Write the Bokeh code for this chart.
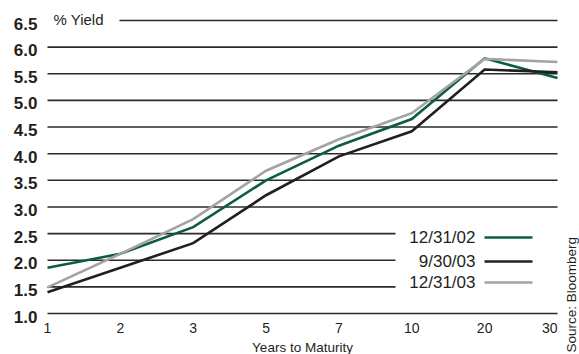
from bokeh.plotting import figure
from bokeh.models import Range1d, BoxAnnotation, Label, ColumnDataSource
from bokeh.core.properties import value
from bokeh.embed import file_html
from bokeh.resources import INLINE
import math

maturities = ["1", "2", "3", "5", "7", "10", "20", "30"]
y_ticks = [1.0, 1.5, 2.0, 2.5, 3.0, 3.5, 4.0, 4.5, 5.0, 5.5, 6.0, 6.5]
yield_dec02 = [1.86, 2.12, 2.62, 3.50, 4.15, 4.65, 5.79, 5.42]
yield_sep03 = [1.40, 1.86, 2.32, 3.22, 3.95, 4.42, 5.58, 5.53]
yield_dec03 = [1.49, 2.12, 2.77, 3.68, 4.27, 4.76, 5.78, 5.72]
series_names = ["12/31/02", "9/30/03", "12/31/03"]
series_colors = ["#0b5c40", "#231f20", "#a3a3a3"]

FONT = "Liberation Sans"
TXT = "#231f20"
W, H = 579, 354
# pixel placement of the data area (first/last maturity, lowest/highest tick)
PL, PR, PT, PB = 47, 557, 20, 313
xs = list(range(len(maturities)))
sx = (PR - PL) / (len(xs) - 1)
sy = (PB - PT) / (y_ticks[-1] - y_ticks[0])


def dx(px):
    return xs[0] + (px - PL) / sx


def dy(py):
    return y_ticks[0] + (PB - py) / sy


p = figure(width=W, height=H, output_backend="svg", toolbar_location=None,
           x_axis_type=None, y_axis_type=None,
           x_range=Range1d(dx(0), dx(W)), y_range=Range1d(dy(H), dy(0)),
           min_border=0)
p.outline_line_color = None
p.grid.visible = False

# horizontal gridlines at each tick
p.segment(x0=[xs[0]] * len(y_ticks), x1=[xs[-1]] * len(y_ticks), y0=y_ticks, y1=y_ticks,
          line_color="#2a2a2a", line_width=1.6)

# y tick labels
p.text(x=[dx(37)] * len(y_ticks), y=[t - 3 / sy for t in y_ticks],
       text=[f"{t:.1f}" for t in y_ticks], text_align="right", text_baseline="middle",
       text_font=value(FONT), text_font_style="bold", text_font_size="17px", text_color=TXT)

# x tick labels
xsrc = ColumnDataSource(dict(x=xs, y=[y_ticks[0] - 14.5 / sy] * len(xs), text=maturities,
                             align=["center"] * (len(xs) - 1) + ["right"]))
p.text(x="x", y="y", text="text", text_align="align", source=xsrc, text_baseline="middle",
       text_font=value(FONT), text_font_size="14px", text_color=TXT)

# x axis title
p.text(x=[(xs[0] + xs[-1]) / 2], y=[dy(347)], text=["Years to Maturity"], text_align="center",
       text_baseline="middle", text_font=value(FONT), text_font_size="13.5px", text_color=TXT)

# data lines
for vals, col in zip([yield_dec02, yield_sep03, yield_dec03], series_colors):
    p.line(xs, vals, line_color=col, line_width=2.6, line_join="miter")

# "% Yield" title with gap in the top gridline
p.add_layout(BoxAnnotation(left=dx(40), right=dx(119), bottom=dy(30), top=dy(10),
                           fill_color="white", fill_alpha=1, line_color=None))
p.add_layout(Label(x=dx(53), y=dy(19), text="% Yield", text_font=FONT, text_font_size="15px",
                   text_baseline="middle", text_align="left", text_color=TXT))

# legend: labels left of line samples, background breaks gridlines
p.add_layout(BoxAnnotation(left=dx(395), right=dx(565), bottom=dy(300), top=dy(220),
                           fill_color="white", fill_alpha=1, line_color=None))
leg_py = [237, 261, 282]
for name, col, py in zip(series_names, series_colors, leg_py):
    p.add_layout(Label(x=dx(475), y=dy(py), text=name, text_font=FONT, text_font_size="17px",
                       text_align="right", text_baseline="middle", text_color=TXT))
    p.add_layout(BoxAnnotation(left=dx(484), right=dx(532), bottom=dy(py + 1.3), top=dy(py - 1.3),
                               fill_color=col, fill_alpha=1, line_color=None))

# source note
p.add_layout(Label(x=dx(571), y=dy(352), text="Source: Bloomberg", angle=math.pi / 2,
                   text_font=FONT, text_font_size="13.5px", text_align="left",
                   text_baseline="middle", text_color=TXT))

open("out.html", "w").write(file_html(p, INLINE))
